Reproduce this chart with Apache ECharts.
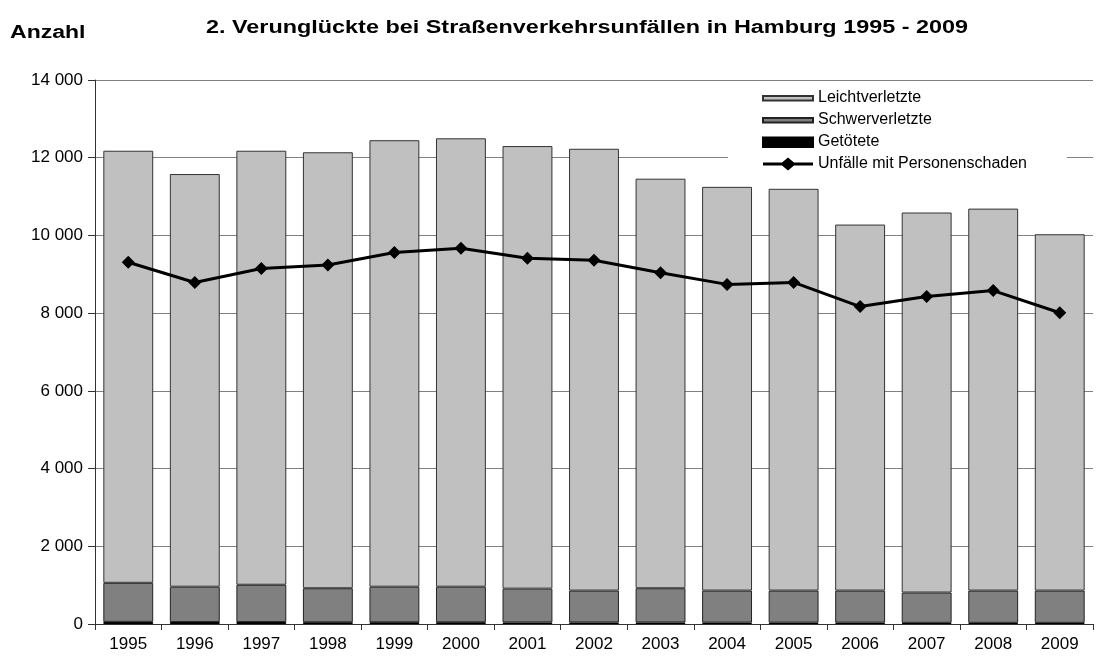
<!DOCTYPE html>
<html>
<head>
<meta charset="utf-8">
<script src="https://cdn.jsdelivr.net/npm/echarts@6/dist/echarts.min.js"></script>
<style>
html,body{margin:0;padding:0;background:#fff;}
#chart{width:1096px;height:663px;}
</style>
</head>
<body>
<div id="chart"></div>
<script>
const years = ['1995','1996','1997','1998','1999','2000','2001','2002','2003','2004','2005','2006','2007','2008','2009'];
const getoetete = [55, 50, 50, 45, 45, 45, 40, 40, 40, 35, 35, 35, 30, 30, 30];
const schwerverletzte = [1005, 910, 960, 875, 915, 915, 870, 820, 880, 825, 825, 825, 780, 830, 830];
const leichtverletzte = [11120, 10620, 11170, 11220, 11490, 11540, 11390, 11370, 10540, 10390, 10340, 9420, 9780, 9830, 9170];
const unfaelle = [9310, 8790, 9150, 9240, 9560, 9670, 9410, 9360, 9040, 8740, 8790, 8170, 8430, 8580, 8010];
const yTicks = [0, 2000, 4000, 6000, 8000, 10000, 12000, 14000];
const titleText = '2. Verunglückte bei Straßenverkehrsunfällen in Hamburg 1995 - 2009';
const yAxisName = 'Anzahl';

const chart = echarts.init(document.getElementById('chart'), null, {renderer:'canvas'});
const fmt = v => { const s = String(v); return s.length > 3 ? s.slice(0, s.length-3) + ' ' + s.slice(-3) : s; };
const barCommon = { type:'bar', stack:'total', barCategoryGap:'25%', animation:false };
chart.setOption({
  backgroundColor:'#ffffff',
  animation:false,
  graphic:[
    {type:'text', x:587, y:28, scaleX:1.3, z:10,
      style:{text:titleText, font:'bold 18px "Liberation Sans", Arial', fill:'#000', align:'center', verticalAlign:'middle'}},
    {type:'text', x:10, y:33, scaleX:1.28, z:10,
      style:{text:yAxisName, font:'bold 18px "Liberation Sans", Arial', fill:'#000', align:'left', verticalAlign:'middle'}}
  ],
  grid:{left:95, right:3, top:80, bottom:39, containLabel:false},
  legend:{
    orient:'vertical', left:728, top:86,
    padding:[4, 40, 6, 34],
    backgroundColor:'#ffffff',
    itemWidth:50, itemHeight:14, itemGap:6,
    textStyle:{fontFamily:'Liberation Sans, Arial', fontSize:16, color:'#000', lineHeight:15},
    data:[
      {name:'Leichtverletzte', icon:'path://M0,0 M0,14 M0,5 L50,5 L50,9.5 L0,9.5 Z'},
      {name:'Schwerverletzte', icon:'path://M0,0 M0,14 M0,5 L50,5 L50,9.5 L0,9.5 Z'},
      {name:'Getötete', icon:'path://M0,0 M0,14 M0,2.5 L50,2.5 L50,12 L0,12 Z'},
      {name:'Unfälle mit Personenschaden', icon:'path://M0,0 M0,14 M0,5.5 L19,5.5 L25,0.5 L31,5.5 L50,5.5 L50,8.5 L31,8.5 L25,13.5 L19,8.5 L0,8.5 Z'}
    ]
  },
  xAxis:{
    type:'category', data:years,
    axisLine:{lineStyle:{color:'#333', width:1}},
    axisTick:{show:true, alignWithLabel:false, length:6, lineStyle:{color:'#333'}},
    axisLabel:{fontFamily:'Liberation Sans, Arial', fontSize:17, color:'#000', margin:12}
  },
  yAxis:{
    type:'value', min:yTicks[0], max:yTicks[yTicks.length-1], interval:2000,
    axisLine:{show:true, lineStyle:{color:'#333', width:1}},
    axisTick:{show:true, length:7, lineStyle:{color:'#333'}},
    axisLabel:{fontFamily:'Liberation Sans, Arial', fontSize:17, color:'#000', margin:12, formatter:fmt},
    splitLine:{lineStyle:{color:'#808080', width:1}}
  },
  series:[
    Object.assign({}, barCommon, {name:'Getötete', data:getoetete,
      itemStyle:{color:'#000000', borderColor:'#000', borderWidth:1}}),
    Object.assign({}, barCommon, {name:'Schwerverletzte', data:schwerverletzte,
      itemStyle:{color:'#808080', borderColor:'#222', borderWidth:1}}),
    Object.assign({}, barCommon, {name:'Leichtverletzte', data:leichtverletzte,
      itemStyle:{color:'#c0c0c0', borderColor:'#333', borderWidth:1}}),
    {name:'Unfälle mit Personenschaden', type:'line', data:unfaelle, z:5,
      symbol:'diamond', symbolSize:13, showSymbol:true,
      lineStyle:{color:'#000', width:3},
      itemStyle:{color:'#000'}}
  ]
});
</script>
</body>
</html>
